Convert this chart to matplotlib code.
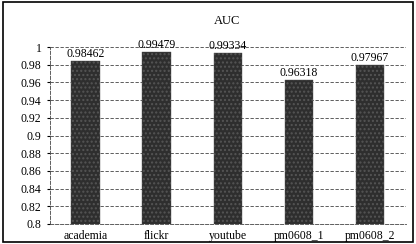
import matplotlib
matplotlib.use("Agg")
import matplotlib.pyplot as plt
from matplotlib.patches import Rectangle

categories = ["academia", "flickr", "youtube", "pm0608_1", "pm0608_2"]
auc = [0.98462, 0.99479, 0.99334, 0.96318, 0.97967]
yticks = [0.8, 0.82, 0.84, 0.86, 0.88, 0.9, 0.92, 0.94, 0.96, 0.98, 1]
ytick_labels = ["0.8", "0.82", "0.84", "0.86", "0.88", "0.9", "0.92", "0.94", "0.96", "0.98", "1"]

plt.rcParams["font.family"] = ["Liberation Serif", "DejaVu Serif"]

fig = plt.figure(figsize=(4.16, 2.44), dpi=100)
ax = fig.add_axes([0.12, 0.082, 0.855, 0.725])

x = range(len(categories))
bars = ax.bar(x, auc, width=0.4, color="#2e2e2e", edgecolor="#555555",
              hatch="....", linewidth=0.3, zorder=3)
for b, v in zip(bars, auc):
    ax.text(b.get_x() + b.get_width() / 2, v + 0.001, f"{v:.5f}",
            ha="center", va="bottom", fontsize=8.5, zorder=4)

ax.set_ylim(0.8, 1.0)
ax.set_xlim(-0.5, len(categories) - 0.5)
ax.set_yticks(yticks)
ax.set_yticklabels(ytick_labels, fontsize=8.5)
ax.set_xticks(list(x))
ax.set_xticklabels(categories, fontsize=8.5)
ax.tick_params(axis="x", length=0, pad=4)
ax.tick_params(axis="y", length=2, pad=4, direction="out")
ax.grid(axis="y", linestyle=(0, (4, 2)), color="#444444", linewidth=0.6, zorder=0)

for s in ["top", "right"]:
    ax.spines[s].set_visible(False)
for s in ["left", "bottom"]:
    ax.spines[s].set_linestyle((0, (4, 2)))
    ax.spines[s].set_linewidth(0.6)
    ax.spines[s].set_color("#444444")

fig.text(0.547, 0.915, "AUC", ha="center", va="center", fontsize=9)

fig.patches.append(Rectangle((0.008, 0.01), 0.984, 0.98, transform=fig.transFigure,
                             fill=False, edgecolor="black", linewidth=1.2))

fig.savefig("out.png", dpi=100)
